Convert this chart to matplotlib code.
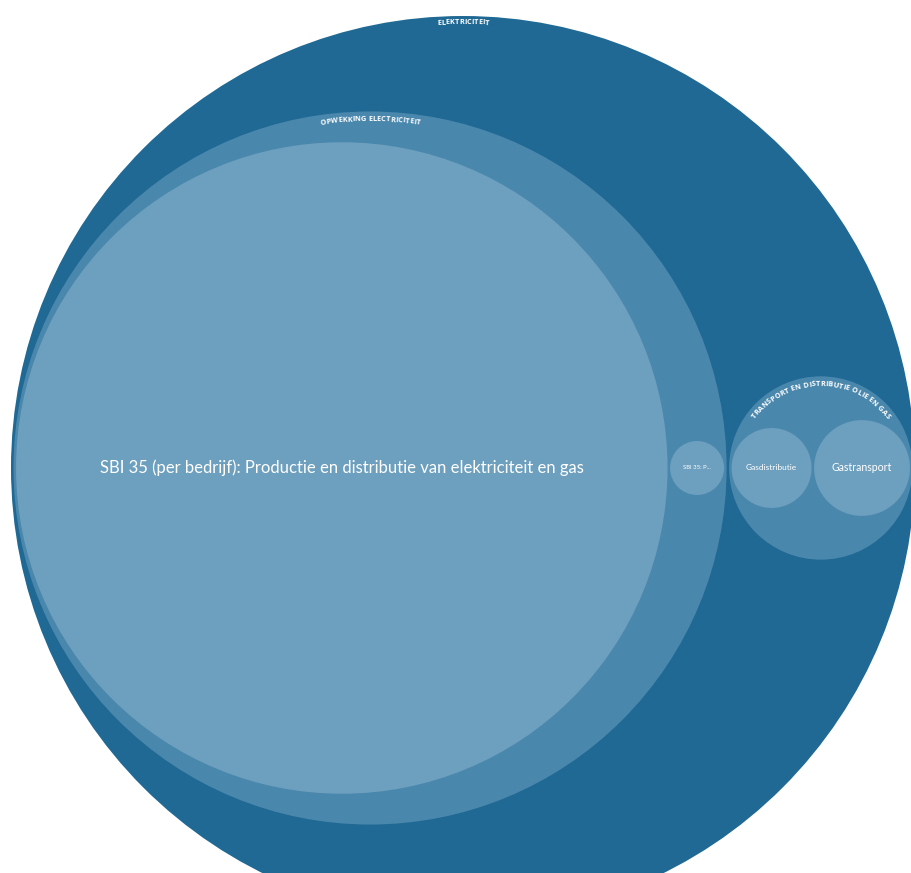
import numpy as np
import matplotlib.pyplot as plt
from matplotlib.patches import Circle
from matplotlib.font_manager import FontProperties
from matplotlib.textpath import TextPath

# hierarchy: root -> groups -> leaves (values are sizes, area ~ value)
root_name = 'ELEKTRICITEIT'
group_names = ['OPWEKKING ELECTRICITEIT', 'TRANSPORT EN DISTRIBUTIE OLIE EN GAS']
leaf_names = [
    ['SBI 35 (per bedrijf): Productie en distributie van elektriciteit en gas', 'SBI 35: P...'],
    ['Gasdistributie', 'Gastransport'],
]
leaf_values = [[10630, 73], [160, 230]]
leaf_fontsizes = [[11.95, 4.3], [6.0, 7.6]]

colors = ['#1f6994', '#4a87ad', '#6d9fbe']
font = 'Lato'
arc_font = 'Open Sans'
pad = 0.8  # gap between circles, same units as radius

W, H = 911, 873
root_px = (463, 468)   # where the root centre sits in the picture
root_r_px = 452


def pack_row(radii):
    # children side by side on one line, inside an enclosing circle
    d = 2 * np.asarray(radii, dtype=float)
    R = (d.sum() + pad * (len(d) + 1)) / 2
    xs = []
    left = -R + pad
    for di in d:
        xs.append(left + di / 2)
        left += di + pad
    return np.array(xs), R


# layout
leaf_r = [np.sqrt(v) for v in leaf_values]
group_r, leaf_x = [], []
for radii in leaf_r:
    xs, R = pack_row(radii)
    group_r.append(R)
    leaf_x.append(xs)
gx, root_r = pack_row(group_r)

s = root_r_px / root_r  # pixels per unit

fig = plt.figure(figsize=(W / 100, H / 100), dpi=100)
ax = fig.add_axes([0, 0, 1, 1])
ax.set_xlim(-root_px[0] / s, (W - root_px[0]) / s)
ax.set_ylim(-(H - root_px[1]) / s, root_px[1] / s)
ax.set_aspect('equal')
ax.axis('off')


def char_width(ch, size):
    # advance width in px, measured at a big size to avoid rounding
    prop = FontProperties(family=arc_font, weight='bold', size=100)
    w1 = TextPath((0, 0), 'H' + ch + 'H', prop=prop).get_extents().width
    w0 = TextPath((0, 0), 'HH', prop=prop).get_extents().width
    return (w1 - w0) * size / 100 * 100 / 72


def arc_text(text, cx, cy, r, size, inset, track=0.1):
    prop = FontProperties(family=arc_font, weight='bold', size=size)
    widths = np.array([char_width(c, size) + track for c in text])
    rb = r * s - inset  # baseline radius in px
    total = widths.sum() / rb
    theta = -total / 2
    for c, w in zip(text, widths):
        a = theta + (w / 2) / rb
        ax.text(cx + rb / s * np.sin(a), cy + rb / s * np.cos(a), c,
                fontproperties=prop, color='white', rotation=-np.degrees(a),
                ha='center', va='baseline', rotation_mode='anchor')
        theta += w / rb


ax.add_patch(Circle((0, 0), root_r, color=colors[0], lw=0))
arc_text(root_name, 0, 0, root_r, 5.3, 8)

for g in range(len(group_names)):
    ax.add_patch(Circle((gx[g], 0), group_r[g], color=colors[1], lw=0))
    arc_text(group_names[g], gx[g], 0, group_r[g], 5.3, 9.5)
    for k in range(len(leaf_names[g])):
        x = gx[g] + leaf_x[g][k]
        ax.add_patch(Circle((x, 0), leaf_r[g][k], color=colors[2], lw=0))
        ax.text(x, 0, leaf_names[g][k], color='white', ha='center', va='center',
                fontsize=leaf_fontsizes[g][k], family=font)

fig.savefig('out.png', dpi=100)
